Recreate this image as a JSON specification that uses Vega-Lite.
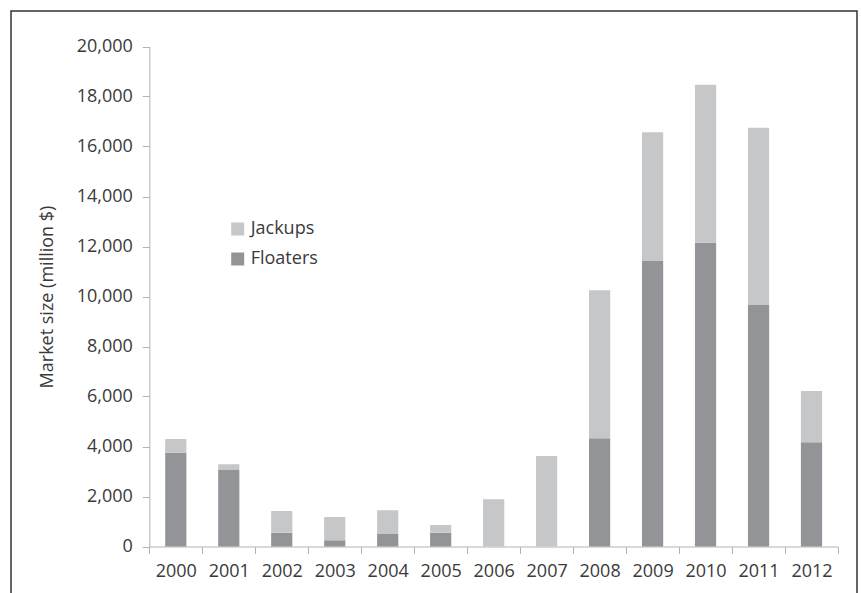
{
  "$schema": "https://vega.github.io/schema/vega-lite/v6.json",
  "autosize": {"type": "none"},
  "padding": {"left": 11, "top": 11, "right": 4, "bottom": 0},
  "width": 846,
  "height": 600,
  "background": "white",
  "config": {
    "view": {"stroke": "#333333", "strokeWidth": 1.5},
    "font": "Open Sans",
    "axis": {"labelFont": "Open Sans", "titleFont": "Open Sans", "labelColor": "#3a3a3a", "titleColor": "#3a3a3a"}
  },
  "data": {
    "values": [
      {"year": "2000", "series": "Floaters", "value": 3750},
      {"year": "2000", "series": "Jackups", "value": 550},
      {"year": "2001", "series": "Floaters", "value": 3060},
      {"year": "2001", "series": "Jackups", "value": 230},
      {"year": "2002", "series": "Floaters", "value": 550},
      {"year": "2002", "series": "Jackups", "value": 870},
      {"year": "2003", "series": "Floaters", "value": 250},
      {"year": "2003", "series": "Jackups", "value": 930},
      {"year": "2004", "series": "Floaters", "value": 500},
      {"year": "2004", "series": "Jackups", "value": 950},
      {"year": "2005", "series": "Floaters", "value": 550},
      {"year": "2005", "series": "Jackups", "value": 310},
      {"year": "2006", "series": "Floaters", "value": 0},
      {"year": "2006", "series": "Jackups", "value": 1890},
      {"year": "2007", "series": "Floaters", "value": 0},
      {"year": "2007", "series": "Jackups", "value": 3620},
      {"year": "2008", "series": "Floaters", "value": 4330},
      {"year": "2008", "series": "Jackups", "value": 5920},
      {"year": "2009", "series": "Floaters", "value": 11420},
      {"year": "2009", "series": "Jackups", "value": 5150},
      {"year": "2010", "series": "Floaters", "value": 12150},
      {"year": "2010", "series": "Jackups", "value": 6320},
      {"year": "2011", "series": "Floaters", "value": 9660},
      {"year": "2011", "series": "Jackups", "value": 7090},
      {"year": "2012", "series": "Floaters", "value": 4170},
      {"year": "2012", "series": "Jackups", "value": 2050}
    ]
  },
  "mark": {"type": "bar", "width": {"band": 0.4}},
  "encoding": {
    "x": {
      "field": "year",
      "type": "ordinal",
      "scale": {"range": [138.3, 827], "paddingInner": 0, "paddingOuter": 0},
      "axis": {
        "title": null,
        "offset": -64.5,
        "labelAngle": 0,
        "labelFontSize": 18,
        "labelPadding": 9,
        "tickBand": "extent",
        "tickSize": 7,
        "tickColor": "#b3b3b3",
        "domainColor": "#b3b3b3",
        "grid": false
      }
    },
    "y": {
      "field": "value",
      "type": "quantitative",
      "stack": "zero",
      "scale": {"domain": [0, 20000], "range": [535.5, 35.5], "nice": false, "zero": true},
      "axis": {
        "title": "Market size (million $)",
        "titleFontSize": 18,
        "titleFontWeight": "normal",
        "titlePadding": 20,
        "offset": -138.3,
        "values": [0, 2000, 4000, 6000, 8000, 10000, 12000, 14000, 16000, 18000, 20000],
        "format": ",d",
        "labelFontSize": 18,
        "labelPadding": 10,
        "tickSize": 7,
        "tickColor": "#b3b3b3",
        "domainColor": "#b3b3b3",
        "grid": false
      }
    },
    "color": {
      "field": "series",
      "type": "nominal",
      "scale": {"domain": ["Jackups", "Floaters"], "range": ["#c6c7c9", "#939498"]},
      "legend": {
        "title": null,
        "orient": "none",
        "legendX": 217.7,
        "legendY": 209,
        "symbolType": "square",
        "symbolSize": 169,
        "symbolStrokeWidth": 0,
        "labelFontSize": 18,
        "labelColor": "#3a3a3a",
        "labelFont": "Open Sans",
        "rowPadding": 12,
        "labelOffset": 4
      }
    },
    "order": {"field": "series", "sort": "ascending"}
  }
}
